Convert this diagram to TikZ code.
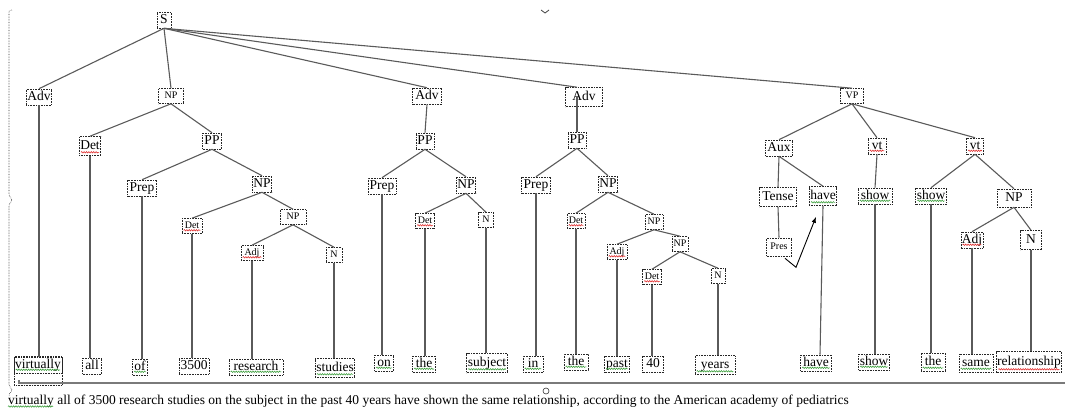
\documentclass[tikz,border=0pt]{standalone}
\usepackage{fontspec}
\setmainfont{Liberation Serif}
\usetikzlibrary{arrows.meta,decorations.pathmorphing}
\definecolor{edgegray}{HTML}{5A5A5A}
\definecolor{spellgreen}{HTML}{3FA03F}
\definecolor{spellred}{HTML}{E03030}
\definecolor{rulegray}{HTML}{7A7A7A}
\begin{document}
\begin{tikzpicture}[x=1pt,y=-1pt,
  lbl/.style={draw=black!85, densely dotted, line width=0.6pt,
    font=\fontsize{13.5}{15}\selectfont, inner xsep=1pt, inner ysep=1.5pt,
    minimum height=16pt, text height=9.5pt, text depth=3pt},
  sm/.style={font=\fontsize{10}{12}\selectfont, text height=7pt, text depth=2pt, minimum height=15pt},
  br/.style={draw=edgegray, line width=1.1pt},
  sqg/.style={draw=spellgreen, line width=0.6pt, decorate,
    decoration={snake, amplitude=0.7pt, segment length=2.4pt}},
  sqr/.style={sqg, draw=spellred}]
\useasboundingbox (0,0) rectangle (1065,410);

% ---- root
\node[lbl, minimum width=14pt] (S) at (164,20) {S};

% ---- Adv: virtually
\node[lbl, minimum width=25pt] (advA) at (39,97) {Adv};

% ---- NP: all of 3500 research studies
\node[lbl, sm, minimum width=25pt] (npA) at (171,96) {NP};
\node[lbl, minimum width=20pt, minimum height=19pt] (detA) at (90,146) {Det};
\node[lbl, minimum width=19pt] (ppA) at (212,141) {PP};
\node[lbl, minimum width=29pt] (prepA) at (142,188) {Prep};
\node[lbl, minimum width=19pt] (npB) at (262,184) {NP};
\node[lbl, sm, minimum width=20pt] (detB) at (192,226) {Det};
\node[lbl, sm, minimum width=26pt] (npC) at (293,217) {NP};
\node[lbl, sm, minimum width=22pt] (adjA) at (252,253) {Adj};
\node[lbl, sm, minimum width=16pt] (nA) at (334,255) {N};

% ---- Adv: on the subject
\node[lbl, minimum width=29pt] (advB) at (427,96) {Adv};
\node[lbl, minimum width=18pt] (ppB) at (425,141) {PP};
\node[lbl, minimum width=28pt] (prepB) at (382,186) {Prep};
\node[lbl, minimum width=18pt] (npD) at (466,185) {NP};
\node[lbl, sm, minimum width=19pt] (detC) at (425,221) {Det};
\node[lbl, sm, minimum width=15pt] (nB) at (486,220) {N};

% ---- Adv: in the past 40 years
\node[lbl, minimum width=37pt, minimum height=19pt] (advC) at (584,97) {Adv};
\node[lbl, minimum width=18pt] (ppC) at (577,140) {PP};
\node[lbl, minimum width=29pt] (prepC) at (536,185) {Prep};
\node[lbl, minimum width=19pt] (npE) at (608,184) {NP};
\node[lbl, sm, minimum width=18pt] (detD) at (576,221) {Det};
\node[lbl, sm, minimum width=18pt] (npF) at (654,222) {NP};
\node[lbl, sm, minimum width=20pt] (adjB) at (617,252) {Adj};
\node[lbl, sm, minimum width=16pt] (npG) at (680,244) {NP};
\node[lbl, sm, minimum width=19pt] (detE) at (652,277) {Det};
\node[lbl, sm, minimum width=14pt] (nC) at (718,276) {N};

% ---- VP: have shown the same relationship
\node[lbl, sm, minimum width=23pt] (vp) at (852,96) {VP};
\node[lbl, minimum width=27pt] (aux) at (779,148) {Aux};
\node[lbl, minimum width=18pt] (vtA) at (877,146) {vt};
\node[lbl, minimum width=17pt] (vtB) at (975,146) {vt};
\node[lbl, minimum width=37pt, minimum height=19pt] (tense) at (778,197) {Tense};
\node[lbl, minimum width=24pt, minimum height=19pt] (haveA) at (823,196) {have};
\node[lbl, minimum width=34pt] (showA) at (875,196) {show};
\node[lbl, minimum width=30pt] (showB) at (931,196) {show};
\node[lbl, minimum width=34pt, minimum height=18pt] (npH) at (1014,198) {NP};
\node[lbl, sm, minimum width=25pt, minimum height=18pt] (pres) at (779,247) {Pres};
\node[lbl, minimum width=21pt] (adjC) at (972,240) {Adj};
\node[lbl, minimum width=21pt, minimum height=19pt] (nD) at (1031,240) {N};

% ---- words
\node[lbl, minimum width=47pt] (wVirt) at (38,365) {virtually};
\node[lbl, minimum width=19pt] (wAll) at (92,366) {all};
\node[lbl, minimum width=15pt] (wOf) at (140,367) {of};
\node[lbl, minimum width=30pt] (w3500) at (194,366) {3500};
\node[lbl, minimum width=54pt] (wResearch) at (256,367) {research};
\node[lbl, minimum width=39pt, minimum height=19pt] (wStudies) at (335,368) {studies};
\node[lbl, minimum width=19pt] (wOn) at (384,363) {on};
\node[lbl, minimum width=23pt] (wTheA) at (424,364) {the};
\node[lbl, minimum width=41pt, minimum height=19pt] (wSubject) at (487,363) {subject};
\node[lbl, minimum width=20pt] (wIn) at (533,364) {in};
\node[lbl, minimum width=24pt] (wTheB) at (576,362) {the};
\node[lbl, minimum width=25pt] (wPast) at (617,364) {past};
\node[lbl, minimum width=21pt] (w40) at (653,364) {40};
\node[lbl, minimum width=40pt, minimum height=19pt] (wYears) at (715,365) {years};
\node[lbl, minimum width=31pt] (wHave) at (816,363) {have};
\node[lbl, minimum width=31pt] (wShow) at (874,362) {show};
\node[lbl, minimum width=24pt, minimum height=18pt] (wTheC) at (933,362) {the};
\node[lbl, minimum width=34pt, minimum height=18pt] (wSame) at (976,363) {same};
\node[lbl, inner xsep=0.5pt, minimum height=21pt] (wRel) at (1029,362) {relationship};

% second frame round the first word
\draw[black!85, densely dotted, line width=0.6pt] (wVirt.north west) rectangle (wVirt.south east |- 0,385);

% ---- branches
\foreach \a/\b in {S/advA, S/npA, S/advB, S/vp,
    npA/detA, npA/ppA, ppA/prepA, ppA/npB, npB/detB, npB/npC, npC/adjA, npC/nA,
    advB/ppB, ppB/prepB, ppB/npD, npD/detC, npD/nB,
    ppC/prepC, ppC/npE, npE/detD, npE/npF, npF/adjB, npF/npG, npG/detE, npG/nC,
    vp/aux, vp/vtA, vp/vtB, aux/tense, aux/haveA, tense/pres,
    vtA/showA, vtB/showB, vtB/npH, npH/adjC, npH/nD}
  \draw[br] (\a.south) -- (\b.north);
\draw[br] (S.south) -- (ppC.north |- advC.north);
\draw[br] (ppC.north |- advC.center) -- (ppC.north);

% ---- branches down to the words
\foreach \a/\b in {advA/wVirt, detA/wAll, prepA/wOf, detB/w3500, adjA/wResearch, nA/wStudies,
    prepB/wOn, detC/wTheA, nB/wSubject, prepC/wIn, detD/wTheB, adjB/wPast, detE/w40, nC/wYears,
    showA/wShow, showB/wTheC, adjC/wSame, nD/wRel}
  \draw[br] (\a.south) -- (\a.south |- \b.north);
\draw[br] (haveA.south) -- ([xshift=4pt]wHave.north);

% ---- tense arrow
\draw[black, line width=0.9pt, -{Latex[length=6pt,width=4.5pt]}]
  ([xshift=6pt,yshift=-2pt]pres.south) -- ++(11,9) -- ([xshift=-7pt,yshift=-11pt]haveA.south);

% ---- spelling marks
\foreach \n in {wVirt, wOf, wResearch, wStudies, wOn, wTheA, wSubject, wIn, wTheB, wPast,
    wYears, wHave, wShow, wTheC, wSame, haveA, showA, showB}
  \draw[sqg] ([shift={(2pt,3.5pt)}]\n.south west) -- ([shift={(-2pt,3.5pt)}]\n.south east);
\foreach \n in {detA, detB, adjA, detC, detD, adjB, detE, vtA, vtB, adjC, wRel}
  \draw[sqr] ([shift={(2pt,3.5pt)}]\n.south west) -- ([shift={(-2pt,3.5pt)}]\n.south east);

% ---- rule and sentence
\coordinate (ruleL) at (19,380);
\coordinate (ruleR) at (1065,383);
\draw[rulegray, line width=1.8pt] (ruleL) -- (ruleL |- ruleR) -- (ruleR);
\node[anchor=base west, inner sep=0pt, font=\fontsize{13.5}{15}\selectfont] (sent) at (8,404)
  {virtually all of 3500 research studies on the subject in the past 40 years have shown the same relationship, according to the American academy of pediatrics};
\draw[sqg] ([yshift=-2.5pt]sent.base west) -- ++(45,0);

% ---- frame handles
\draw[black!80, densely dotted, line width=0.6pt]
  (12,10) .. controls (9,10) .. (9,14) -- (9,194)
  .. controls (9,198) and (12,197) .. (12,200) .. controls (12,203) and (9,202) .. (9,206)
  -- (9,384) .. controls (9,388) and (12,387) .. (12,390) .. controls (12,393) and (9,392) .. (9,396);
\draw[black!75, line width=0.8pt] (541,10) -- (545,13) -- (549,10);
\draw[black!80, line width=0.6pt] (546,391) circle (3pt);
\end{tikzpicture}
\end{document}
